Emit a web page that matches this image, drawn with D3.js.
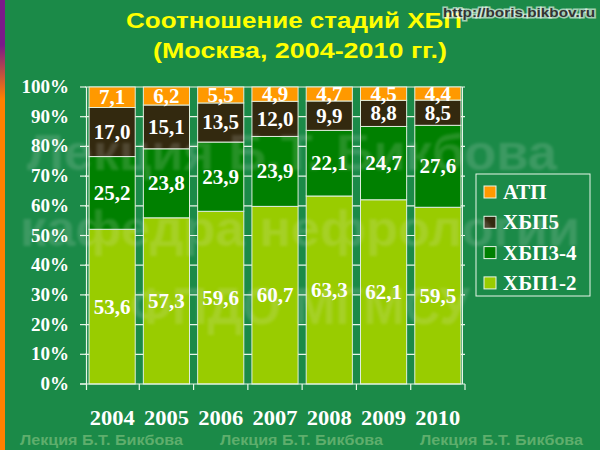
<!DOCTYPE html>
<html><head><meta charset="utf-8">
<script src="https://cdn.jsdelivr.net/npm/d3@7"></script>
<style>html,body{margin:0;padding:0;background:#1b8a48;}svg{display:block;}</style>
</head><body>
<svg id="c" width="600" height="450"></svg>
<script>
const years = ["2004","2005","2006","2007","2008","2009","2010"];
const seriesNames = ["ХБП1-2","ХБП3-4","ХБП5","АТП"];
const ckd12 = [53.6,57.3,59.6,60.7,63.3,62.1,59.5];
const ckd34 = [25.2,23.8,23.9,23.9,22.1,24.7,27.6];
const ckd5  = [17.0,15.1,13.5,12.0,9.9,8.8,8.5];
const rrt   = [7.1,6.2,5.5,4.9,4.7,4.5,4.4];
const yTicks = [0,10,20,30,40,50,60,70,80,90,100];
const colors = {"ХБП1-2":"#99cc00","ХБП3-4":"#008000","ХБП5":"#33290f","АТП":"#ff9900"};
const legendOrder = ["АТП","ХБП5","ХБП3-4","ХБП1-2"];

const svg = d3.select("#c");
const W=600,H=450;
const defs = svg.append("defs");
const lg = defs.append("linearGradient").attr("id","stripe").attr("x1",0).attr("y1",0).attr("x2",0).attr("y2",1);
lg.append("stop").attr("offset","0%").attr("stop-color","#7a1a8a");
lg.append("stop").attr("offset","10%").attr("stop-color","#7a1a8a");
lg.append("stop").attr("offset","22%").attr("stop-color","#ff8000");
lg.append("stop").attr("offset","100%").attr("stop-color","#ff8000");
defs.append("filter").attr("id","blur").append("feGaussianBlur").attr("stdDeviation",1.5);

svg.append("rect").attr("width",W).attr("height",H).attr("fill","#1b8a48");
svg.append("rect").attr("x",0).attr("y",0).attr("width",5).attr("height",H).attr("fill","url(#stripe)");

const x = d3.scaleBand().domain(years).range([85,465]).paddingInner(0.15).paddingOuter(0.075);
const y = d3.scaleLinear().domain([0,100]).range([384,87]);

// gridlines
svg.append("g").selectAll("line").data(yTicks.slice(1)).join("line")
  .attr("x1",85).attr("x2",465).attr("y1",d=>y(d)).attr("y2",d=>y(d))
  .attr("stroke","#e8f5e8").attr("stroke-width",1.2);
svg.append("line").attr("x1",462.5).attr("x2",462.5).attr("y1",87).attr("y2",384).attr("stroke","#e8f5e8").attr("stroke-width",1);

// data table
const rows = years.map((yr,i)=>{
  const o={year:yr}; o["ХБП1-2"]=ckd12[i]; o["ХБП3-4"]=ckd34[i]; o["ХБП5"]=ckd5[i]; o["АТП"]=rrt[i]; return o;});
const stacked = d3.stack().keys(seriesNames).offset(d3.stackOffsetExpand)(rows);

const fmt = v => d3.format(".1f")(v).replace(".",",");

svg.append("g").selectAll("g").data(stacked).join("g")
  .attr("fill",d=>colors[d.key])
  .selectAll("rect").data(d=>d).join("rect")
  .attr("x",d=>x(d.data.year)).attr("width",x.bandwidth())
  .attr("y",d=>y(d[1]*100)).attr("height",d=>y(d[0]*100)-y(d[1]*100))
  .attr("stroke","#dfeedd").attr("stroke-width",1);

// data labels
const lab = svg.append("g").attr("font-family","Liberation Serif, Times New Roman, serif").attr("font-weight","bold")
  .attr("font-size",21).attr("fill","#ffffff").attr("text-anchor","middle");
stacked.forEach(s=>{
  lab.append("g").selectAll("text").data(s).join("text")
    .attr("x",d=>x(d.data.year)+x.bandwidth()/2)
    .attr("y",d=>(y(d[0]*100)+y(d[1]*100))/2+7)
    .text(d=>fmt(d.data[s.key]));
});

// axes
const axG = svg.append("g").attr("stroke","#e8f5e8").attr("stroke-width",1.2);
axG.append("line").attr("x1",86.5).attr("x2",86.5).attr("y1",87).attr("y2",384);
axG.append("line").attr("x1",80).attr("x2",465).attr("y1",384).attr("y2",384);
axG.selectAll(".yt").data(yTicks).join("line").attr("class","yt")
  .attr("x1",80).attr("x2",86).attr("y1",d=>y(d)).attr("y2",d=>y(d));
const bnd = years.map(yr=>x(yr)-x.step()*x.paddingInner()/2).concat([465]);
bnd[0]=86.5;
axG.selectAll(".xt").data(bnd).join("line").attr("class","xt")
  .attr("x1",d=>d).attr("x2",d=>d).attr("y1",384).attr("y2",390);

svg.append("g").attr("font-family","Liberation Serif, Times New Roman, serif").attr("font-weight","bold")
  .attr("font-size",19).attr("fill","#ffffff").attr("text-anchor","end")
  .selectAll("text").data(yTicks).join("text")
  .attr("x",69).attr("y",d=>y(d)+6).text(d=>d+"%");

svg.append("g").attr("font-family","Liberation Serif, Times New Roman, serif").attr("font-weight","bold")
  .attr("font-size",20).attr("fill","#ffffff").attr("text-anchor","middle")
  .selectAll("text").data(years).join("text")
  .attr("x",d=>x(d)+x.bandwidth()/2).attr("y",425)
  .attr("textLength",45).attr("lengthAdjust","spacingAndGlyphs").text(d=>d);

// legend
const leg = svg.append("g");
leg.append("rect").attr("x",476).attr("y",174).attr("width",114).attr("height",122)
  .attr("fill","none").attr("stroke","#e8f5e8").attr("stroke-width",1);
const li = leg.selectAll("g").data(legendOrder).join("g")
  .attr("transform",(d,i)=>`translate(484,${192+i*30.3})`);
li.append("rect").attr("x",0).attr("y",-6).attr("width",12).attr("height",12)
  .attr("fill",d=>colors[d]).attr("stroke","#e8f5e8").attr("stroke-width",1);
li.append("text").attr("x",19).attr("y",7).attr("font-family","Liberation Serif, Times New Roman, serif")
  .attr("font-weight","bold").attr("font-size",21).attr("fill","#ffffff").text(d=>d);

// watermark (large, faint, on top)
const wm = svg.append("g").attr("opacity",0.16).attr("filter","url(#blur)")
  .attr("font-family","Arial, Liberation Sans, sans-serif").attr("font-weight","bold").attr("fill","#e8e8e8")
  .attr("text-anchor","middle");
wm.append("text").attr("x",292).attr("y",170).attr("font-size",50).attr("textLength",530).attr("lengthAdjust","spacingAndGlyphs").text("Лекция Б.Т. Бикбова");
wm.append("text").attr("x",300).attr("y",246).attr("font-size",50).attr("textLength",560).attr("lengthAdjust","spacingAndGlyphs").text("кафедра нефрологии");
wm.append("text").attr("x",300).attr("y",324).attr("font-size",52).attr("textLength",340).attr("lengthAdjust","spacingAndGlyphs").text("ФПДО МГМСУ");

// title
const tt = svg.append("g").attr("font-family","Arial, Liberation Sans, sans-serif").attr("font-weight","bold")
  .attr("fill","#ffff00").attr("text-anchor","middle").attr("font-size",22);
tt.append("text").attr("x",294).attr("y",28).attr("textLength",336).attr("lengthAdjust","spacingAndGlyphs").text("Соотношение стадий ХБП");
tt.append("text").attr("x",300).attr("y",58).attr("textLength",294).attr("lengthAdjust","spacingAndGlyphs").text("(Москва, 2004-2010 гг.)");

// url watermark
svg.append("text").attr("x",595).attr("y",17).attr("text-anchor","end")
  .attr("font-family","Arial, Liberation Sans, sans-serif").attr("font-weight","bold").attr("font-size",13)
  .attr("fill","#333").attr("stroke","#ffffff").attr("stroke-width",3).attr("stroke-opacity",0.6)
  .attr("paint-order","stroke").attr("textLength",152).attr("lengthAdjust","spacingAndGlyphs").text("http://boris.bikbov.ru");

// bottom watermark
svg.append("g").attr("font-family","Arial, Liberation Sans, sans-serif").attr("font-weight","bold")
  .attr("font-size",15).attr("fill","#5eae6c")
  .selectAll("text").data([20,220,420]).join("text")
  .attr("x",d=>d).attr("y",445).attr("textLength",163).attr("lengthAdjust","spacingAndGlyphs").text("Лекция Б.Т. Бикбова");
</script>
</body></html>
